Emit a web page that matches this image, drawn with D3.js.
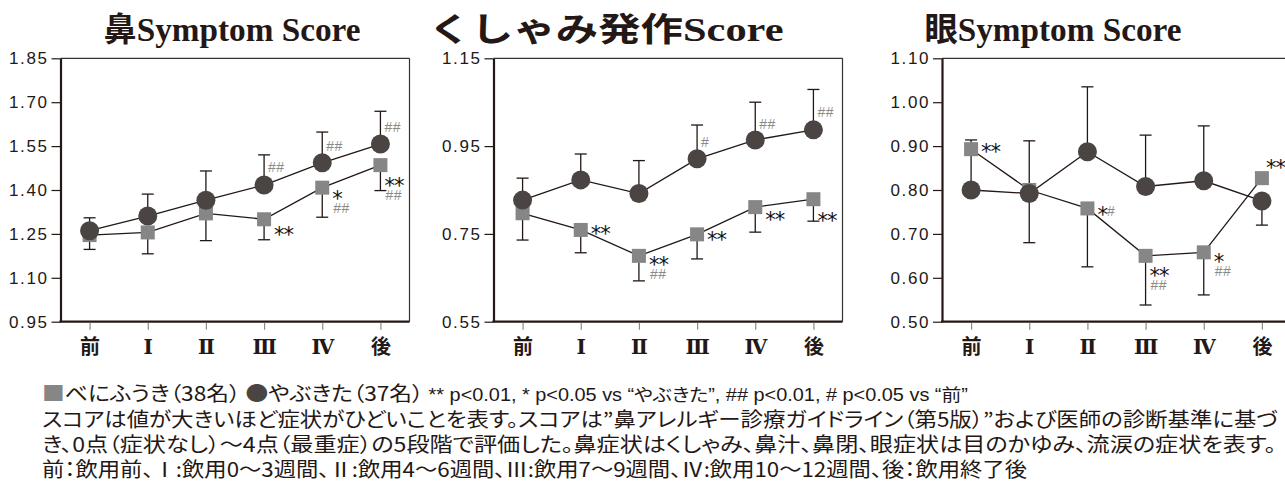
<!DOCTYPE html>
<html><head><meta charset="utf-8">
<script src="https://cdn.jsdelivr.net/npm/d3@7"></script>
<style>body{margin:0;background:#fff}svg{display:block}.palt{font-feature-settings:"palt" 1}</style>
</head><body><svg id="c" width="1285" height="483"></svg>
<script>
// ---------------- data ----------------
const categories = ["前","Ⅰ","Ⅱ","Ⅲ","Ⅳ","後"];
const titles = ["鼻Symptom Score","くしゃみ発作Score","眼Symptom Score"];
const yDomains = [[0.95,1.85],[0.55,1.15],[0.50,1.10]];
const yTicks = [
  [0.95,1.10,1.25,1.40,1.55,1.70,1.85],
  [0.55,0.75,0.95,1.15],
  [0.50,0.60,0.70,0.80,0.90,1.00,1.10]];
// やぶきた (circle) means and error-bar ends
const yabukita = [
  [1.261,1.311,1.365,1.417,1.493,1.557],
  [0.827,0.873,0.842,0.921,0.964,0.987],
  [0.800,0.792,0.887,0.808,0.821,0.775]];
const yabukitaErr = [
  [1.305,1.386,1.465,1.520,1.598,1.669],
  [0.877,0.932,0.917,0.998,1.050,1.079],
  [0.914,0.912,1.035,0.925,0.946,0.720]];
// べにふうき (square) means and error-bar ends
const benifuuki = [
  [1.246,1.255,1.320,1.300,1.408,1.485],
  [0.797,0.759,0.700,0.749,0.811,0.829],
  [0.893,0.800,0.758,0.650,0.658,0.827]];
const benifuukiErr = [
  [1.197,1.182,1.227,1.230,1.307,1.398],
  [0.736,0.707,0.643,0.693,0.754,0.779],
  [null,0.680,0.625,0.538,0.561,null]];
// significance marks: [category index, value level, beside ("c" cap / "s" square), text; "\n" stacks]
const marks = [
  [[3,1.480,"c","##"],[4,1.550,"c","##"],[5,1.614,"c","##"],
   [3,1.261,"s","**"],[4,1.383,"s","*\n##"],[5,1.428,"c","**\n##"]],
  [[3,0.960,"c","#"],[4,1.000,"c","##"],[5,1.028,"c","##"],
   [1,0.760,"s","**"],[2,0.689,"s","**\n##"],
   [3,0.745,"s","**"],[4,0.791,"s","**"],[5,0.789,"c","**"]],
  [[0,0.895,"s","**"],[2,0.753,"s","*#"],[3,0.614,"c","**\n##"],
   [4,0.644,"s","*\n##"],[5,0.859,"c","**"]]];
const seriesNames = ["べにふうき（38名）","やぶきた（37名）"];
const sigNote = "** p<0.01, * p<0.05 vs “やぶきた”,  ## p<0.01, # p<0.05 vs “前”";
const noteLines = [
  "スコアは値が大きいほど症状がひどいことを表す。スコアは”鼻アレルギー診療ガイドライン（第5版）”および医師の診断基準に基づ",
  "き、0点（症状なし）～4点（最重症）の5段階で評価した。鼻症状はくしゃみ、鼻汁、鼻閉、眼症状は目のかゆみ、流涙の症状を表す。",
  "前：飲用前、Ⅰ:飲用0～3週間、Ⅱ:飲用4～6週間、Ⅲ:飲用7～9週間、Ⅳ:飲用10～12週間、後：飲用終了後"];

// ---------------- layout ----------------
const svg = d3.select("#c");
const panelLeft = [60.5, 493.5, 942];
const titleCx = [232, 606, 1053];
const titleW = [257, 355, 257];
const plotW = 349, plotTop = 58.3, plotBottom = 321.7;
const ink = "#231815", circFill = "#4a4443", sqFill = "#868686", hashCol = "#8a8a8a";
const CJK = "'Noto Sans CJK JP','Noto Sans',sans-serif";

titles.forEach((t,p)=>{
  svg.append("text").attr("x",titleCx[p]).attr("y",41)
    .attr("text-anchor","middle")
    .style("font-family","'Liberation Serif','Noto Sans CJK JP',serif")
    .style("font-weight","bold").style("font-size","33px").attr("fill",ink)
    .attr("textLength",titleW[p]).attr("lengthAdjust","spacingAndGlyphs")
    .text(t);
});

for (let p=0;p<3;p++){
  const L = panelLeft[p];
  const x = d3.scalePoint().domain(categories).range([L, L+plotW]).padding(0.5);
  const y = d3.scaleLinear().domain(yDomains[p]).range([plotBottom, plotTop]);
  const g = svg.append("g");

  // top & right frame
  g.append("line").attr("x1",L).attr("x2",L+plotW).attr("y1",plotTop).attr("y2",plotTop)
    .attr("stroke","#333").attr("stroke-width",1.2);
  g.append("line").attr("x1",L+plotW).attr("x2",L+plotW).attr("y1",plotTop).attr("y2",plotBottom)
    .attr("stroke","#333").attr("stroke-width",1.2);

  // axes
  const ya = g.append("g").attr("transform",`translate(${L},0)`)
    .call(d3.axisLeft(y).tickValues(yTicks[p]).tickSize(9).tickSizeOuter(0).tickPadding(3)
      .tickFormat(d3.format(".2f")));
  ya.select(".domain").attr("stroke",ink).attr("stroke-width",2.2);
  ya.selectAll(".tick line").attr("stroke",ink).attr("stroke-width",1.2);
  ya.selectAll(".tick text").attr("fill",ink)
    .style("font-family","'Liberation Sans Narrow','Liberation Sans',sans-serif")
    .style("font-size","17px").style("letter-spacing","1.6px");

  const xa = g.append("g").attr("transform",`translate(0,${plotBottom})`)
    .call(d3.axisBottom(x).tickSize(8).tickSizeOuter(0).tickPadding(10));
  xa.select(".domain").attr("stroke",ink).attr("stroke-width",2.2)
    .attr("d",`M${L-1},0H${L+plotW}`);
  xa.selectAll(".tick line").attr("stroke","#8a8a8a").attr("stroke-width",1.2).attr("y1",1);
  xa.selectAll(".tick text").attr("fill",ink)
    .style("font-family","'DejaVu Serif','Noto Sans CJK JP',serif")
    .style("font-weight","bold").style("font-size","20px");

  const pts = (vals, errs) => categories.map((c,i)=>({c, v:vals[p][i], e:errs[p][i]}));
  const circ = pts(yabukita, yabukitaErr), sq = pts(benifuuki, benifuukiErr);

  // error bars
  [circ, sq].forEach(arr=>{
    const eg = g.append("g").attr("stroke",ink).attr("stroke-width",1.3);
    arr.filter(d=>d.e!=null).forEach(d=>{
      const cx = x(d.c);
      eg.append("line").attr("x1",cx).attr("x2",cx).attr("y1",y(d.v)).attr("y2",y(d.e));
      eg.append("line").attr("x1",cx-6).attr("x2",cx+6).attr("y1",y(d.e)).attr("y2",y(d.e));
    });
  });

  // lines
  const line = d3.line().x(d=>x(d.c)).y(d=>y(d.v));
  [sq, circ].forEach(arr=>{
    g.append("path").attr("d",line(arr)).attr("fill","none").attr("stroke",ink).attr("stroke-width",1.3);
  });

  // squares
  g.selectAll(".sq").data(sq).join("rect")
    .attr("x",d=>x(d.c)-7).attr("y",d=>y(d.v)-7).attr("width",14).attr("height",14)
    .attr("fill",sqFill);
  // circles
  g.selectAll(".ci").data(circ).join("circle")
    .attr("cx",d=>x(d.c)).attr("cy",d=>y(d.v)).attr("r",9.5).attr("fill",circFill);

  // significance marks
  marks[p].forEach(([i,v,side,txt])=>{
    const cx = x(categories[i]) + (side==="c" ? 4 : 10);
    const cy = y(v);
    const t = g.append("text").attr("x",cx).attr("y",cy);
    txt.split("\n").forEach((ln,li)=>{
      const ly = cy + li*13;
      ln.match(/\*+|#+/g).forEach((r,ri)=>{
        const ts = t.append("tspan");
        if (ri===0) ts.attr("x", cx + (li>0 ? 1 : 0));
        if (r[0]==="*"){
          ts.attr("y",ly+11)
            .style("font-family","'DejaVu Sans',sans-serif").style("font-size","21px")
            .style("letter-spacing","-1px").attr("fill","#111").text(r);
        } else {
          ts.attr("y",ly+5)
            .style("font-family","'Liberation Sans',sans-serif").style("font-size","14px")
            .style("letter-spacing","0.5px").attr("fill",hashCol).text(r);
        }
      });
    });
  });
}

// ---------------- notes ----------------
const rowY = [401, 427, 452, 477];
// legend row (one text, tspans)
const r1 = svg.append("text").attr("class","palt").attr("x",42).attr("y",rowY[0]).attr("fill",ink)
  .style("font-family",CJK).style("font-size","20px")
  .attr("textLength",926).attr("lengthAdjust","spacingAndGlyphs");
r1.append("tspan").attr("fill",sqFill).text("■");
r1.append("tspan").text(seriesNames[0] + " ");
r1.append("tspan").attr("fill",circFill).text("●");
r1.append("tspan").text(seriesNames[1] + "  ");
r1.append("tspan").style("font-family","'Liberation Sans','Noto Sans CJK JP',sans-serif")
  .style("font-size","17.5px").text(sigNote);
// notes
const rowW = [1236, 1234, 985];
noteLines.forEach((s,k)=>
  svg.append("text").attr("class","palt").attr("x",42).attr("y",rowY[k+1]).attr("fill",ink)
    .style("font-family",CJK).style("font-size","20px")
    .attr("textLength",rowW[k]).attr("lengthAdjust","spacingAndGlyphs").text(s));
</script>
</body></html>
